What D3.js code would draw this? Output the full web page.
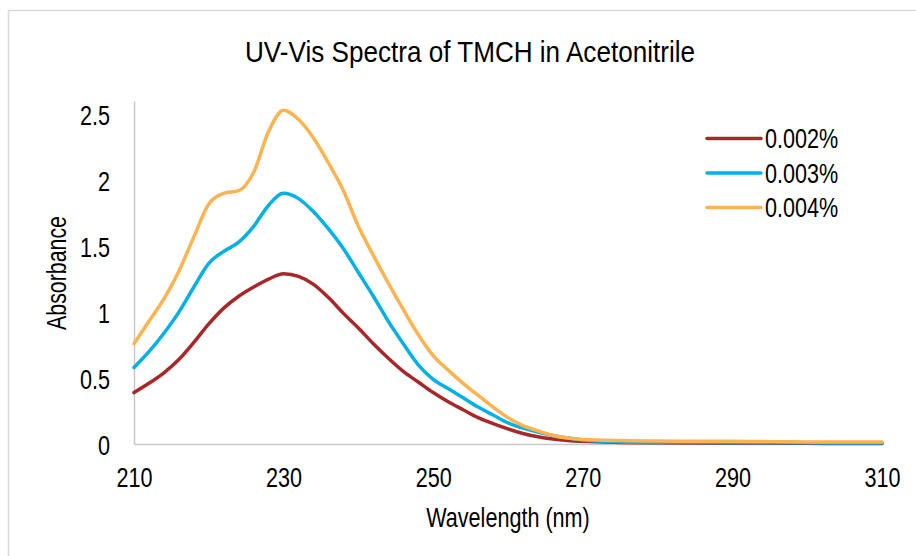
<!DOCTYPE html>
<html>
<head>
<meta charset="utf-8">
<script src="https://cdn.jsdelivr.net/npm/d3@7"></script>
<style>
  html, body { margin: 0; padding: 0; background: #fff; }
  svg { display: block; }
  text { font-family: "Liberation Sans", Arial, sans-serif; fill: #000; }
</style>
</head>
<body>
<svg id="chart" width="916" height="556"></svg>
<script>
const wavelengths = [210,212,214,216,218,220,222,224,226,228,230,232,234,236,238,240,242,244,246,248,250,252,254,256,258,260,262,264,266,268,270,275,280,285,290,295,300,305,310];
const s002 = [0.39,0.46,0.54,0.64,0.77,0.91,1.03,1.12,1.19,1.25,1.29,1.27,1.21,1.11,0.99,0.88,0.76,0.65,0.55,0.47,0.39,0.32,0.26,0.20,0.155,0.115,0.08,0.055,0.038,0.027,0.02,0.012,0.009,0.007,0.006,0.005,0.005,0.004,0.004];
const s003 = [0.58,0.70,0.84,1.00,1.19,1.37,1.46,1.53,1.65,1.81,1.90,1.86,1.76,1.63,1.48,1.30,1.12,0.93,0.76,0.60,0.49,0.42,0.35,0.28,0.22,0.16,0.12,0.09,0.065,0.045,0.03,0.016,0.012,0.011,0.01,0.01,0.009,0.008,0.008];
const s004 = [0.76,0.93,1.10,1.31,1.57,1.82,1.90,1.92,2.06,2.37,2.53,2.46,2.32,2.13,1.92,1.65,1.43,1.22,1.02,0.83,0.67,0.56,0.46,0.37,0.28,0.20,0.14,0.10,0.065,0.045,0.035,0.026,0.023,0.021,0.02,0.018,0.016,0.015,0.015];
const seriesNames = ["0.002%","0.003%","0.004%"];
const seriesColors = ["#A8282A","#00B0E6","#FDB34F"];
const xTicks = [210,230,250,270,290,310];
const yTicks = [0,0.5,1,1.5,2,2.5];
const titleText = "UV-Vis Spectra of TMCH in Acetonitrile";
const xTitle = "Wavelength (nm)";
const yTitle = "Absorbance";

const svg = d3.select("#chart");
const SX = 0.8;

function addText(parent, px, py, str, size, anchor, sx, rot) {
  const t = parent.append("text")
    .attr("transform", `translate(${px},${py})` + (rot ? ` rotate(${rot})` : "") + ` scale(${sx},1)`)
    .attr("text-anchor", anchor).attr("font-size", size).text(str);
  return t;
}

// chart frame
svg.append("rect").attr("x",8.5).attr("y",10.5).attr("width",960).attr("height",600)
  .attr("fill","#fff").attr("stroke","#d9d9d9").attr("stroke-width",1.5);

const x = d3.scaleLinear().domain([210,310]).range([134,882]);
const y = d3.scaleLinear().domain([0,2.6]).range([444,101]);

// axes (lines via d3 axis, labels drawn condensed)
const xAxis = d3.axisBottom(x).tickValues(xTicks).tickSize(0).tickFormat(() => "");
const gx = svg.append("g").attr("transform",`translate(0,${y(0)})`).call(xAxis);
gx.select(".domain").attr("stroke","#c8c8c8").attr("stroke-width",1.5);
gx.selectAll(".tick").each(function(d){
  addText(d3.select(this), 0, 43, d3.format("d")(d), 27, "middle", SX, 0);
});

const yAxis = d3.axisLeft(y).tickValues(yTicks).tickSize(0).tickFormat(() => "");
const gy = svg.append("g").attr("transform",`translate(${x(210)},0)`).call(yAxis);
gy.select(".domain").attr("stroke","#c8c8c8").attr("stroke-width",1.5);
gy.selectAll(".tick").each(function(d){
  addText(d3.select(this), -24, 10, String(d), 27, "end", SX, 0);
});

// lines
const allSeries = [s002,s003,s004];
const line = d3.line().x((d,i)=>x(wavelengths[i])).y(d=>y(d)).curve(d3.curveMonotoneX);
allSeries.forEach((s,k)=>{
  svg.append("path").datum(s).attr("d",line).attr("fill","none")
    .attr("stroke",seriesColors[k]).attr("stroke-width",3.5).attr("stroke-linejoin","round").attr("stroke-linecap","round");
});

// titles
addText(svg, 470, 62, titleText, 30, "middle", 0.87, 0);
addText(svg, 508, 527, xTitle, 27, "middle", SX, 0);
addText(svg, 66, 273, yTitle, 27, "middle", 0.79, -90);

// legend
const lg = svg.append("g");
seriesNames.forEach((n,k)=>{
  const ly = 138.5 + k*34.5;
  lg.append("line").attr("x1",707).attr("x2",761).attr("y1",ly).attr("y2",ly)
    .attr("stroke",seriesColors[k]).attr("stroke-width",3.5).attr("stroke-linecap","round");
  addText(lg, 765, ly+9.5, n, 27, "start", SX, 0);
});
</script>
</body>
</html>
